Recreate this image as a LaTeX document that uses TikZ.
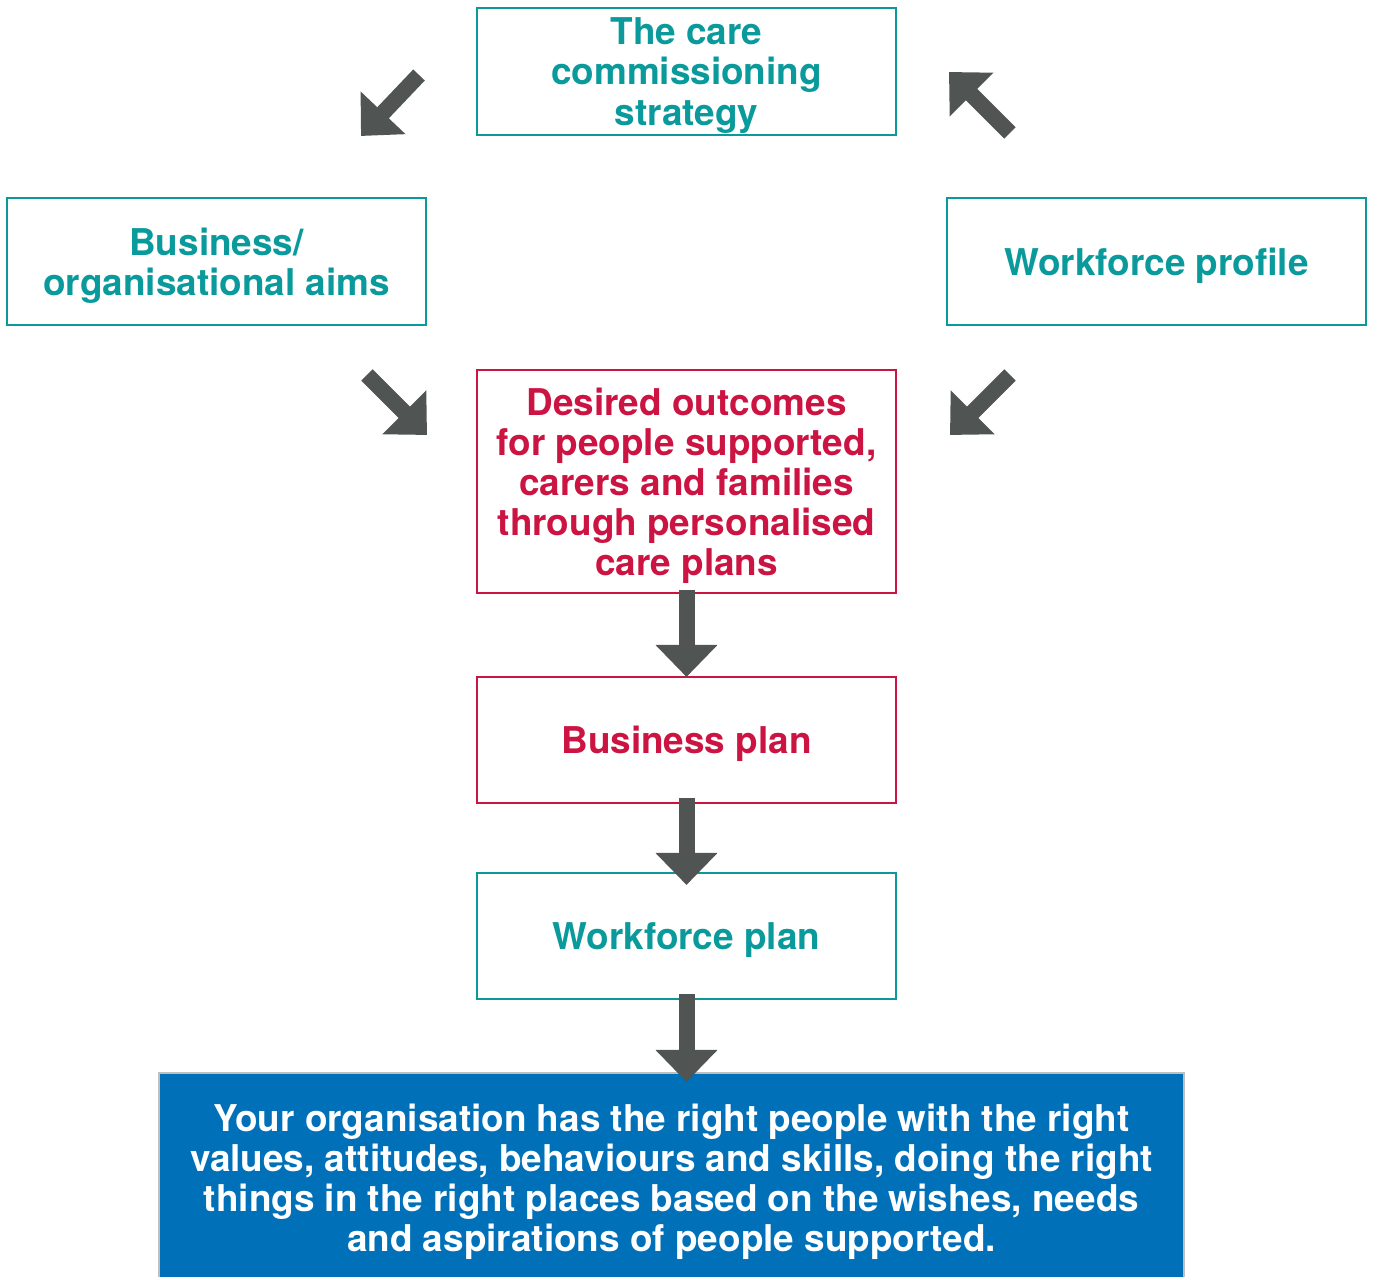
\documentclass[tikz,border=0pt]{standalone}
\usepackage{fontspec}
\setmainfont{TeX Gyre Heros}
\usepackage{tikz}
\usetikzlibrary{positioning}
\usetikzlibrary{arrows.meta}
\definecolor{Teal}{HTML}{0A9A9C}
\definecolor{Crimson}{HTML}{CC1442}
\definecolor{Ocean}{HTML}{0070B8}
\definecolor{Slate}{HTML}{505453}

\tikzset{
    box/.style={draw=Teal, line width=0.2mm, minimum width=4.19cm, minimum height=1.27cm,
        outer sep=0pt, inner sep=0pt, align=center, text=Teal, text depth=0pt,
        font=\fontsize{10.5}{11.4}\selectfont\bfseries},
    redbox/.style={box, draw=Crimson, text=Crimson},
    bigarrow/.style={draw=Slate, line width=1.6mm, -{Triangle[length=3.2mm, width=6mm]}}
}

\begin{document}
\begin{tikzpicture}
        \useasboundingbox (0,0) rectangle (13.73,-12.77);

        \node[box] (strategy) at (6.865,-0.715) {The care\\commissioning\\strategy};
        \node[box, below left=0.63cm and 0.51cm of strategy] (aims) {Business/\\organisational aims};
        \node[box, below right=0.63cm and 0.51cm of strategy] (profile) {Workforce profile};
        \node[redbox, below=2.35cm of strategy, minimum height=2.23cm] (outcomes) {Desired outcomes\\for people supported,\\carers and families\\through personalised\\care plans};
        \node[redbox, below=0.84cm of outcomes, minimum height=1.26cm] (busplan) {Business plan};
        \node[box, below=0.70cm of busplan, minimum height=1.26cm] (wfplan) {Workforce plan};
        \node[box, below=0.74cm of wfplan, xshift=-0.15cm, fill=Ocean, draw=black!25, text=white,
            minimum width=10.25cm, minimum height=2.1cm] (result)
            {Your organisation has the right people with the right\\values, attitudes, behaviours and skills, doing the right\\things in the right places based on the wishes, needs\\and aspirations of people supported.};

        % free arrows round the strategy box
        \coordinate (a1) at (4.19,-0.75);
        \coordinate (b1) at (3.61,-1.36);
        \coordinate (a2) at (10.10,-1.33);
        \coordinate (b2) at (9.49,-0.72);
        \coordinate (a3) at (3.67,-3.75);
        \coordinate (b3) at (4.27,-4.35);
        \coordinate (a4) at (10.10,-3.75);
        \coordinate (b4) at (9.50,-4.35);
        \draw[bigarrow] (a1) -- (b1);
        \draw[bigarrow] (a2) -- (b2);
        \draw[bigarrow] (a3) -- (b3);
        \draw[bigarrow] (a4) -- (b4);

        % edges (down the plan)
        \draw[bigarrow] ([yshift=0.03cm]outcomes.south) -- (busplan.north);
        \draw[bigarrow] ([yshift=0.05cm]busplan.south) -- ([yshift=-0.12cm]wfplan.north);
        \draw[bigarrow] ([yshift=0.05cm]wfplan.south) -- ([yshift=-0.09cm, xshift=0.15cm]result.north);
    \end{tikzpicture}
\end{document}
